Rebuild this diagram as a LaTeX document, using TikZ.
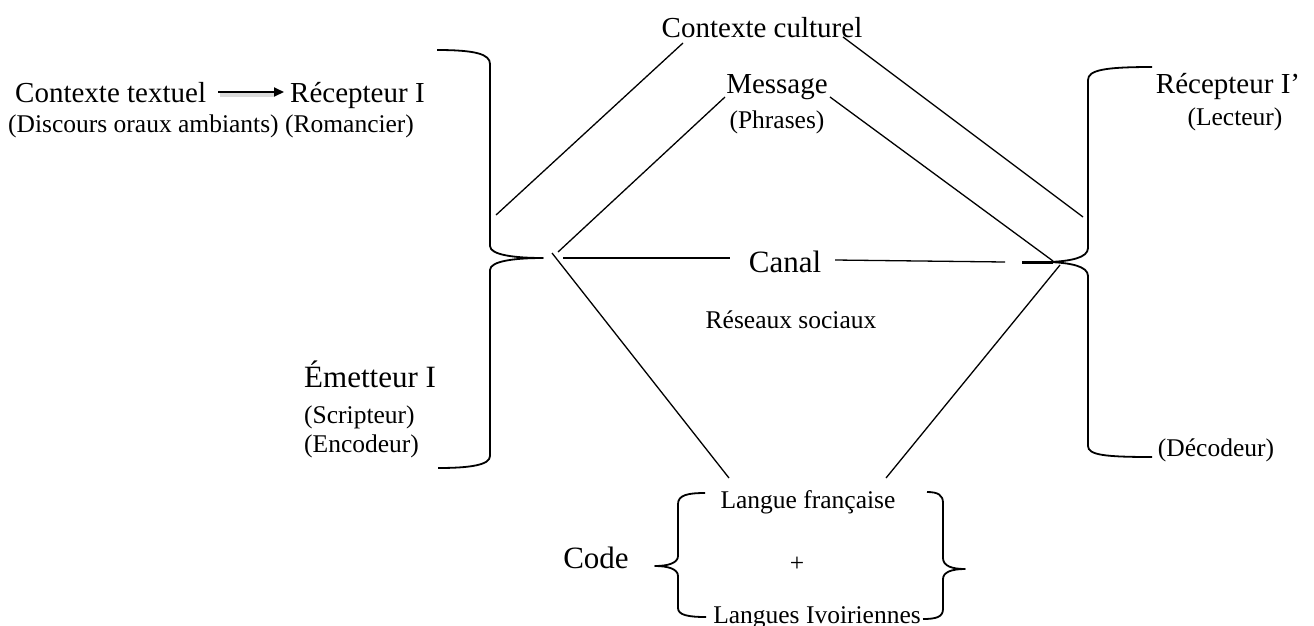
\documentclass[tikz,border=0pt]{standalone}
\usepackage{fontspec}
\setmainfont{Liberation Serif}
\usetikzlibrary{arrows.meta}
\tikzset{
  big/.style={font=\fontsize{29}{32}\selectfont, inner sep=0pt, anchor=base},
  bigg/.style={font=\fontsize{31}{34}\selectfont, inner sep=0pt, anchor=base},
  small/.style={font=\fontsize{25.5}{28}\selectfont, inner sep=0pt, anchor=base},
  ln/.style={line width=1.3pt},
  br/.style={line width=1.8pt, line join=round},
}
\begin{document}
\begin{tikzpicture}[x=1pt,y=-1pt]
\useasboundingbox (0,0) rectangle (1314,625);

% texts (positions are baselines)
\node[big] (cc) at (762,37) {Contexte culturel};
\node[big] (msg) at (777,93) {Message};
\node[small] (phr) at (777,128) {(Phrases)};
\node[big, anchor=base west] (ct) at (15,102) {Contexte textuel};
\node[big, anchor=base west] (r1) at (290,102) {Récepteur I};
\node[small, anchor=base west] (disc) at (8,132) {(Discours oraux ambiants) (Romancier)};
\node[big] (r2) at (1228,93) {Récepteur I’};
\node[small] (lect) at (1235,125) {(Lecteur)};
\node[bigg] (canal) at (785,272) {Canal};
\node[small] (res) at (791,328) {Réseaux sociaux};
\node[bigg, anchor=base west] (em) at (304,387) {Émetteur I};
\node[small, anchor=base west] (scr) at (304,423) {(Scripteur)};
\node[small, anchor=base west] (enc) at (304,452) {(Encodeur)};
\node[small] (dec) at (1216,456) {(Décodeur)};
\node[bigg] (code) at (596,568) {Code};
\node[small] (lf) at (808,508) {Langue française};
\node[small] (plus) at (797,571) {+};
\node[small] (li) at (817,623) {Langues Ivoiriennes};

% arrow
\coordinate (a1) at (218,92);
\coordinate (a2) at (284,92);
\draw[line width=3.5pt, black!20, opacity=0.7] ([shift={(2,3)}]a1) -- ([shift={(-10,3)}]a2);
\draw[line width=2pt, -{Triangle[length=10pt,width=9pt]}] (a1) -- (a2);

% coordinates for lines
\coordinate (l1a) at (496,215); \coordinate (l1b) at (683,43);
\coordinate (l2a) at (558,252); \coordinate (l2b) at (725,97);
\coordinate (l3a) at (552,253); \coordinate (l3b) at (729,478);
\coordinate (l4a) at (1060,265); \coordinate (l4b) at (886,478);
\coordinate (l5a) at (843,37); \coordinate (l5b) at (1083,217);
\coordinate (l6a) at (830,97); \coordinate (l6b) at (1053,261);
\draw[ln] (l1a) -- (l1b);
\draw[ln] (l2a) -- (l2b);
\draw[ln] (l3a) -- (l3b);
\draw[ln] (l4a) -- (l4b);
\draw[ln] (l5a) -- (l5b);
\draw[ln] (l6a) -- (l6b);

% canal line
\coordinate (c1) at (563,258); \coordinate (c2) at (730,258);
\coordinate (c3) at (835,260); \coordinate (c4) at (1005,262);
\draw[ln] (c1) -- (c2);
\draw[ln] (c3) -- (c4);
\coordinate (c5) at (1022,262); \coordinate (c6) at (1053,262);
\draw[line width=3pt] (c5) -- (c6);

% left big brace
\draw[br] (437,50) .. controls (475,50) and (490,54) .. (490,64) -- (490,246)
  .. controls (490,255) and (515,258) .. (543,258)
  .. controls (515,258) and (490,261) .. (490,270) -- (490,456)
  .. controls (490,465) and (470,468) .. (438,468);

% right big brace
\draw[br] (1152,67) .. controls (1105,67) and (1088,70) .. (1088,80) -- (1088,248)
  .. controls (1088,258) and (1070,261) .. (1050,262)
  .. controls (1070,263) and (1088,266) .. (1088,276) -- (1088,446)
  .. controls (1088,455) and (1105,457) .. (1152,457);

% code left brace
\draw[br] (705,493) .. controls (688,493) and (678,495) .. (678,504) -- (678,556)
  .. controls (678,563) and (668,566) .. (655,566)
  .. controls (668,566) and (678,569) .. (678,576) -- (678,608)
  .. controls (678,615) and (688,617) .. (706,617);

% code right brace
\draw[br] (927,492) .. controls (938,492) and (943,495) .. (943,503) -- (943,558)
  .. controls (943,566) and (952,569) .. (965,569)
  .. controls (952,569) and (943,572) .. (943,579) -- (943,609)
  .. controls (943,617) and (936,619) .. (923,619);
\end{tikzpicture}
\end{document}
